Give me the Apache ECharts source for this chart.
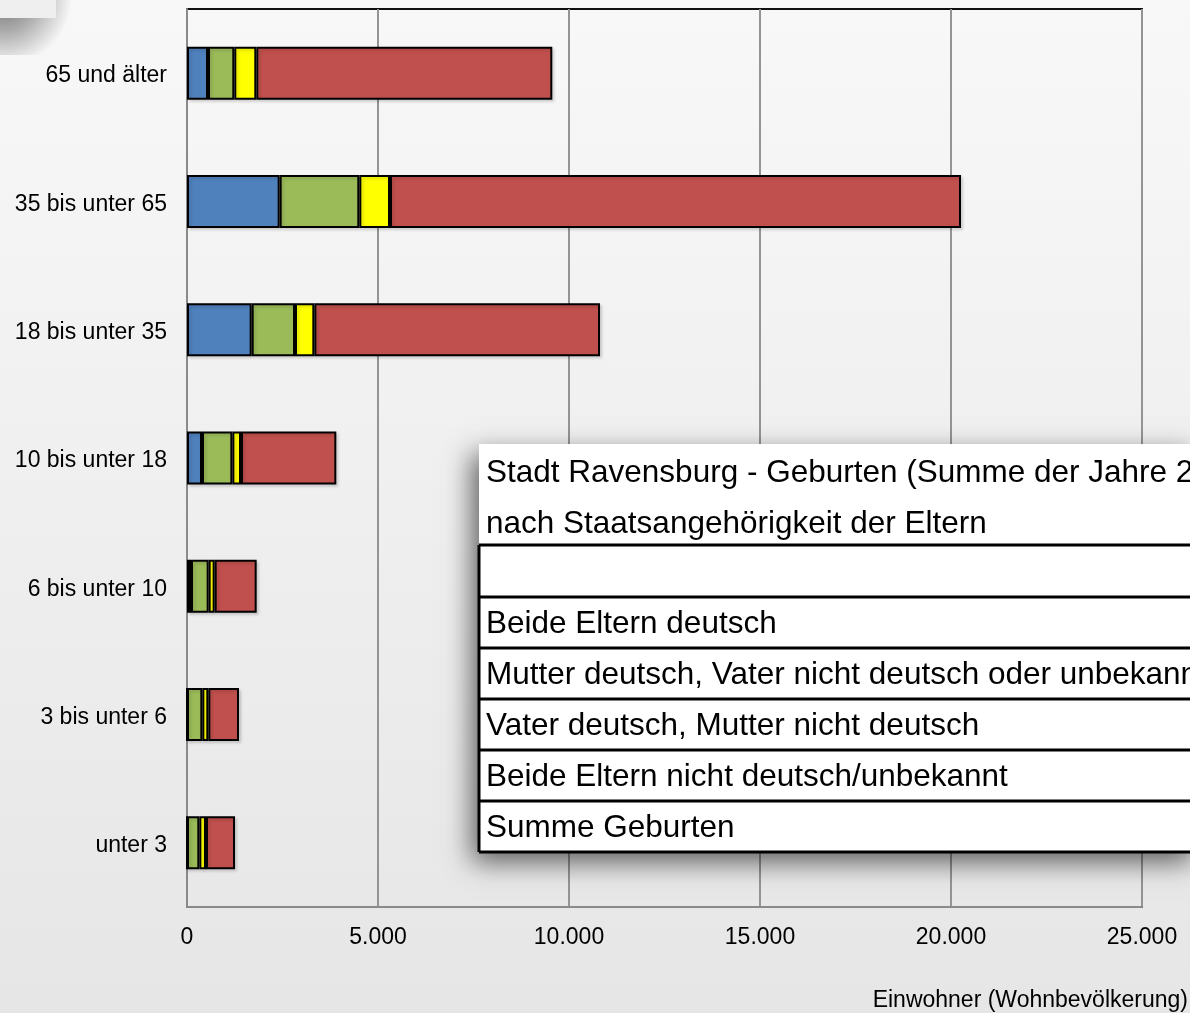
<!DOCTYPE html>
<html>
<head>
<meta charset="utf-8">
<script src="https://cdn.jsdelivr.net/npm/echarts@6/dist/echarts.min.js"></script>
<style>html,body{margin:0;padding:0;}#c{width:1190px;height:1013px;}</style>
</head>
<body>
<div id="c"></div>
<script>
// ---- data ----
const categories = ['unter 3', '3 bis unter 6', '6 bis unter 10', '10 bis unter 18', '18 bis unter 35', '35 bis unter 65', '65 und älter'];
const seriesNames = ['Beide Eltern deutsch', 'Mutter deutsch, Vater nicht deutsch oder unbekannt', 'Vater deutsch, Mutter nicht deutsch', 'Beide Eltern nicht deutsch/unbekannt'];
const blueValues   = [0, 0, 105, 393, 1693, 2426, 550];
const greenValues  = [323, 401, 462, 794, 1134, 2085, 688];
const yellowValues = [174, 157, 157, 227, 506, 803, 576];
const redValues    = [760, 803, 1100, 2495, 7479, 14948, 7749];
const xTicks = [0, 5000, 10000, 15000, 20000, 25000];
const tableTitle = ['Stadt Ravensburg - Geburten (Summe der Jahre 2', 'nach Staatsangehörigkeit der Eltern'];
const tableRows = ['', 'Beide Eltern deutsch', 'Mutter deutsch, Vater nicht deutsch oder unbekannt', 'Vater deutsch, Mutter nicht deutsch', 'Beide Eltern nicht deutsch/unbekannt', 'Summe Geburten'];
const axisTitle = 'Einwohner (Wohnbevölkerung)';

const colors = ['#4f81bd', '#9bbb59', '#ffff00', '#c0504d'];
const allValues = [blueValues, greenValues, yellowValues, redValues];
const FONT = '"Liberation Sans", Arial, sans-serif';

const chart = echarts.init(document.getElementById('c'), null, {renderer: 'canvas'});

const series = allValues.map((vals, i) => ({
  name: seriesNames[i],
  type: 'bar',
  stack: 'total',
  barWidth: 53,
  data: vals,
  itemStyle: {
    color: colors[i],
    borderColor: '#000',
    borderWidth: 2,
    shadowColor: 'rgba(0,0,0,0.15)',
    shadowBlur: 3,
    shadowOffsetX: 2,
    shadowOffsetY: 2
  },
  emphasis: {disabled: true}
}));

// table graphic
const tX = 479, tY = 444, tW = 720, rowTops = [545, 597, 648, 699, 750, 801, 852];
const tableEls = [];
tableEls.push({
  type: 'rect', shape: {x: tX, y: tY, width: tW, height: 852 - tY},
  style: {fill: '#fff', shadowColor: 'rgba(0,0,0,0.6)', shadowBlur: 26, shadowOffsetX: -7, shadowOffsetY: 10}, z: 50
});
tableTitle.forEach((t, i) => {
  tableEls.push({type: 'text', x: 486, y: [473, 524][i], z: 52,
    style: {text: t, font: '31.5px ' + FONT, fill: '#000', textVerticalAlign: 'middle', verticalAlign: 'middle'}});
});
rowTops.forEach(y => {
  tableEls.push({type: 'line', shape: {x1: tX, y1: y, x2: tX + tW, y2: y}, style: {stroke: '#000', lineWidth: 3}, z: 53});
});
tableEls.push({type: 'line', shape: {x1: tX, y1: 545, x2: tX, y2: 852}, style: {stroke: '#000', lineWidth: 3}, z: 53});
tableRows.forEach((t, i) => {
  if (!t) return;
  tableEls.push({type: 'text', x: 486, y: (rowTops[i] + rowTops[i + 1]) / 2 + 2, z: 52,
    style: {text: t, font: '31.5px ' + FONT, fill: '#000', textVerticalAlign: 'middle', verticalAlign: 'middle'}});
});

const option = {
  animation: false,
  backgroundColor: {
    type: 'linear', x: 0, y: 0, x2: 0, y2: 1,
    colorStops: [{offset: 0, color: '#f8f8f8'}, {offset: 1, color: '#e6e6e6'}]
  },
  grid: {left: 187, right: 48, top: 9, bottom: 106, show: true, borderColor: '#111', borderWidth: 2, backgroundColor: 'transparent'},
  xAxis: {
    type: 'value', min: 0, max: 25000, interval: 5000,
    axisLine: {show: true, lineStyle: {color: '#8a8a8a', width: 2}},
    axisTick: {show: false},
    splitLine: {show: true, lineStyle: {color: '#949494', width: 2}},
    axisLabel: {
      margin: 19, color: '#000', fontSize: 23, fontFamily: FONT,
      formatter: v => v.toLocaleString('de-DE')
    }
  },
  yAxis: {
    type: 'category', data: categories,
    axisLine: {show: true, lineStyle: {color: '#8a8a8a', width: 2}},
    axisTick: {show: false},
    axisLabel: {margin: 20, color: '#000', fontSize: 23, fontFamily: FONT, lineHeight: 30, verticalAlign: 'top', padding: [-12, 0, 0, 0]}
  },
  series: series,
  graphic: [
    {type: 'rect', shape: {x: -60, y: -60, width: 180, height: 115}, z: 39,
      style: {fill: {type: 'radial', x: 0.35, y: 0.5, r: 0.6,
        colorStops: [{offset: 0, color: 'rgba(0,0,0,0.55)'}, {offset: 0.5, color: 'rgba(0,0,0,0.3)'}, {offset: 1, color: 'rgba(0,0,0,0)'}]}}},
    {type: 'rect', shape: {x: -10, y: -10, width: 66, height: 28}, z: 40,
      style: {fill: '#efefef'}},
    {type: 'group', children: tableEls},
    {type: 'text', right: 2, top: 989, z: 60,
      style: {text: axisTitle, font: '23px ' + FONT, fill: '#000'}}
  ]
};
chart.setOption(option);
</script>
</body>
</html>
